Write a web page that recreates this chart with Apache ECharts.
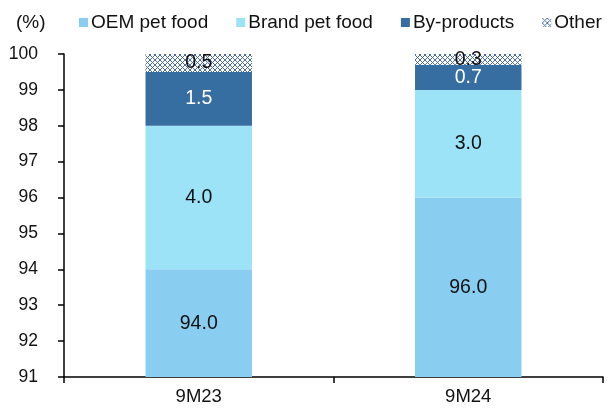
<!DOCTYPE html>
<html>
<head>
<meta charset="utf-8">
<script src="https://cdn.jsdelivr.net/npm/echarts@6/dist/echarts.min.js"></script>
<style>
  html, body { margin: 0; padding: 0; background: #fff; }
  #chart { width: 614px; height: 409px; }
</style>
</head>
<body>
<div id="chart"></div>
<script>
// Revenue mix by segment, stacked to 100%
const categories = ['9M23', '9M24'];
const oemPetFood = [94.0, 96.0];
const brandPetFood = [4.0, 3.0];
const byProducts = [1.5, 0.7];
const other = [0.5, 0.3];
const yTicks = [91, 92, 93, 94, 95, 96, 97, 98, 99, 100];

// Cross-hatch tile for the "Other" segment
function hatchTile() {
  const c = document.createElement('canvas');
  c.width = 5; c.height = 5;
  const g = c.getContext('2d');
  g.fillStyle = '#ffffff';
  g.fillRect(0, 0, 5, 5);
  g.strokeStyle = '#4a6ea3';
  g.lineWidth = 1;
  g.beginPath();
  g.moveTo(0, 0); g.lineTo(5, 5);
  g.moveTo(5, 0); g.lineTo(0, 5);
  g.stroke();
  return c;
}
const hatch = { image: hatchTile(), repeat: 'repeat' };

const FONT = 'Liberation Sans, Arial, sans-serif';

function segment(name, data, color, labelColor) {
  return {
    name: name,
    type: 'bar',
    stack: 'total',
    data: data,
    barWidth: '39.5%',
    clip: true,
    itemStyle: { color: color },
    label: {
      show: true,
      position: 'inside',
      color: labelColor,
      fontFamily: FONT,
      fontSize: 19.5,
      formatter: p => p.value.toFixed(1)
    },
    emphasis: { disabled: true }
  };
}

const chart = echarts.init(document.getElementById('chart'), null, { renderer: 'canvas' });
chart.setOption({
  animation: false,
  backgroundColor: '#ffffff',
  title: {
    text: '(%)',
    left: 11,
    top: 8,
    textStyle: { fontFamily: FONT, fontSize: 19, fontWeight: 'normal', color: '#111' }
  },
  legend: {
    left: 74,
    top: 8,
    itemWidth: 9,
    itemHeight: 9,
    itemGap: 28,
    icon: 'rect',
    textStyle: { fontFamily: FONT, fontSize: 19, color: '#111', padding: [0, 0, 0, -2] },
    data: ['OEM pet food', 'Brand pet food', 'By-products', 'Other']
  },
  grid: { left: 64, right: 11, top: 54, bottom: 32, containLabel: false },
  xAxis: {
    type: 'category',
    data: categories,
    axisLine: { lineStyle: { color: '#000', width: 1.5 } },
    axisTick: { show: true, length: 6, lineStyle: { color: '#000', width: 1.5 } },
    axisLabel: { fontFamily: FONT, fontSize: 18.5, color: '#111', margin: 10 }
  },
  yAxis: {
    type: 'value',
    min: yTicks[0],
    max: yTicks[yTicks.length - 1],
    interval: 1,
    splitLine: { show: false },
    axisLine: { show: true, lineStyle: { color: '#000', width: 1.5 } },
    axisTick: { show: true, length: 6, lineStyle: { color: '#000', width: 1.5 } },
    axisLabel: { fontFamily: FONT, fontSize: 17.5, color: '#111', margin: 26 }
  },
  series: [
    segment('OEM pet food', oemPetFood, '#89cdf0', '#111'),
    segment('Brand pet food', brandPetFood, '#9de3f8', '#111'),
    segment('By-products', byProducts, '#376ea1', '#ffffff'),
    segment('Other', other, hatch, '#111')
  ]
});
</script>
</body>
</html>
